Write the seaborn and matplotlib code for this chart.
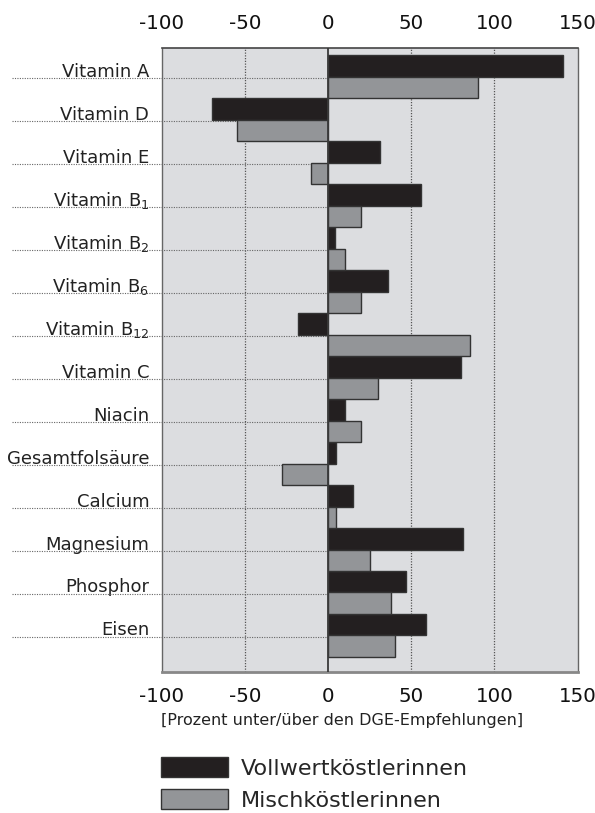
import matplotlib
matplotlib.use("Agg")
import matplotlib.pyplot as plt
import seaborn as sns
import pandas as pd

naehrstoffe = ["Vitamin A", "Vitamin D", "Vitamin E", "Vitamin B$_1$", "Vitamin B$_2$",
               "Vitamin B$_6$", "Vitamin B$_{12}$", "Vitamin C", "Niacin", "Gesamtfolsäure",
               "Calcium", "Magnesium", "Phosphor", "Eisen"]
vollwert = [141, -70, 31, 56, 4, 36, -18, 80, 10, 5, 15, 81, 47, 59]
misch = [90, -55, -10, 20, 10, 20, 85, 30, 20, -28, 5, 25, 38, 40]
gruppen = ["Vollwertköstlerinnen", "Mischköstlerinnen"]
x_ticks = [-100, -50, 0, 50, 100, 150]
x_label = "[Prozent unter/über den DGE-Empfehlungen]"

df = pd.DataFrame({
    "Nährstoff": naehrstoffe * 2,
    "Gruppe": [gruppen[0]] * len(naehrstoffe) + [gruppen[1]] * len(naehrstoffe),
    "Wert": vollwert + misch,
})

sns.set_theme(style="white")
plt.rcParams["font.family"] = ["DejaVu Sans"]
plt.rcParams["mathtext.fontset"] = "dejavusans"

fig = plt.figure(figsize=(5.95, 8.13), dpi=100)
ax = fig.add_axes([161.7 / 595, 1 - 672 / 813, 416 / 595, 624 / 813])
ax.set_facecolor("#dcdde0")

sns.barplot(data=df, y="Nährstoff", x="Wert", hue="Gruppe", orient="h",
            palette=["#231f20", "#939598"], saturation=1, width=1.0,
            edgecolor="#333333", linewidth=1.0, ax=ax, zorder=3)

ax.set_xlim(-100, 150)
ax.set_ylim(13.85, -0.67)
ax.set_xticks(x_ticks)
ax.set_xticklabels([str(t) for t in x_ticks])
ax.tick_params(axis="x", labeltop=True, labelbottom=True, top=False, bottom=False,
               length=0, pad=11, labelsize=14.3, colors="#111111")

# vertical grid
for t in x_ticks[1:-1]:
    if t == 0:
        ax.axvline(t, color="#3a3a3a", lw=1.3, zorder=4)
    else:
        ax.axvline(t, color="#555555", lw=0.9, ls=(0, (1, 1.2)), zorder=1)

# y labels with dotted leader lines
ax.set_yticks(range(len(naehrstoffe)))
ax.set_yticklabels(naehrstoffe, fontsize=13, color="#222222", va="baseline")
ax.tick_params(axis="y", length=0, pad=9)
ax.set_ylabel("")
ax.set_xlabel(x_label, fontsize=11.5, color="#222222")
ax.xaxis.set_label_coords(0.433, -0.066)

x0 = (0 - (-100)) / 250
for i in range(len(naehrstoffe)):
    ax.plot([-0.36, x0], [i + 0.03, i + 0.03], transform=ax.get_yaxis_transform(),
            clip_on=False, color="#666666", lw=0.8, ls=(0, (1, 1.2)), zorder=2)

for side in ["left", "right"]:
    ax.spines[side].set_color("#666666")
    ax.spines[side].set_linestyle((0, (1, 1)))
    ax.spines[side].set_linewidth(1.0)
ax.spines["top"].set_color("#444444")
ax.spines["top"].set_linewidth(1.2)
ax.spines["bottom"].set_color("#888888")
ax.spines["bottom"].set_linewidth(2.0)

sns.move_legend(ax, loc="upper left", bbox_to_anchor=(161 / 595, 1 - 757 / 813),
                bbox_transform=fig.transFigure, frameon=False, title=None,
                fontsize=16, handlelength=3.0, handleheight=1.0, handletextpad=0.6,
                labelspacing=0.48, borderpad=0, borderaxespad=0)
leg = ax.get_legend()
for h in leg.legend_handles:
    h.set_edgecolor("#333333")
    h.set_linewidth(1.0)

fig.savefig("out.png", dpi=100)
